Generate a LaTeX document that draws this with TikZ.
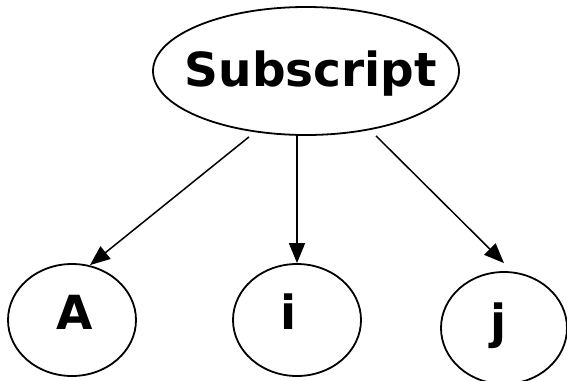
\documentclass[tikz,border=0pt]{standalone}
\usepackage{fontspec}
\setmainfont{DejaVu Sans}
\usetikzlibrary{shapes.geometric,arrows.meta}

\tikzset{
  shapebox/.style={draw=black, line width=1.8pt, ellipse, inner sep=0pt, fill=none},
  childbox/.style={shapebox, minimum width=128pt, minimum height=112pt},
  labeltext/.style={anchor=base, inner sep=0pt, font=\fontsize{47}{56}\selectfont\bfseries},
  edge/.style={draw=black, line width=1.5pt, -{Triangle[length=20pt,width=16pt]}}
}

\begin{document}
\begin{tikzpicture}[x=1pt, y=-1pt]
  \useasboundingbox[fill=white] (0,0) rectangle (567,380);

  % root and children outlines
  \node[shapebox, minimum width=306pt, minimum height=128pt] (sub) at (306,71) {};
  \node[childbox] (A) at (72,320) {};
  \node[childbox] (i) at (297,320) {};
  \node[childbox, minimum width=126pt] (j) at (504,328) {};

  % labels
  \node[labeltext] (subtxt) at (311,86) {Subscript};
  \node[labeltext] (Atxt) at (75,329) {A};
  \node[labeltext] (itxt) at (289,329) {i};
  \node[labeltext] (jtxt) at (499,338) {j};

  % connectors
  \draw[edge] ([xshift=-57pt,yshift=-1pt]sub.south) -- ([xshift=18pt,yshift=-2pt]A.north);
  \draw[edge] ([xshift=-9pt]sub.south) -- (i.north);
  \draw[edge] ([xshift=70pt]sub.south) -- ([yshift=8pt]j.north);
\end{tikzpicture}
\end{document}
